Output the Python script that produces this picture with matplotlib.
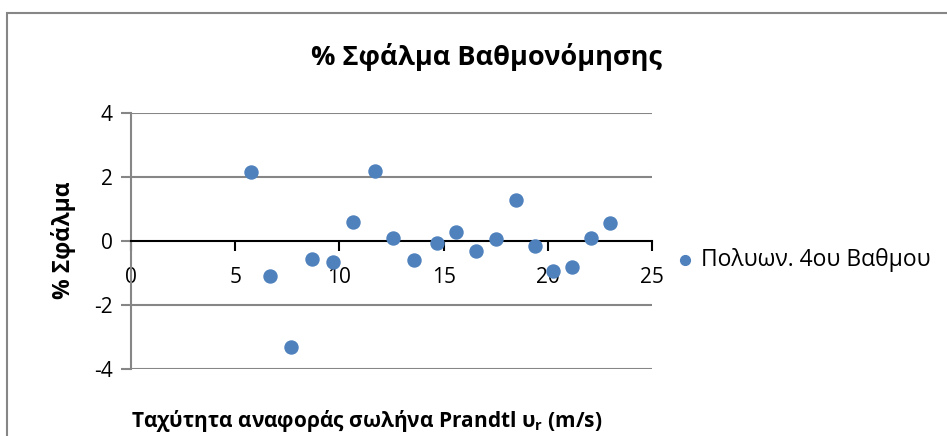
import numpy as np
import matplotlib.pyplot as plt
from matplotlib.patches import Rectangle

plt.rcParams['font.family'] = ['Open Sans', 'DejaVu Sans']
plt.rcParams['mathtext.fontset'] = 'custom'
plt.rcParams['mathtext.rm'] = 'Open Sans:bold'
plt.rcParams['mathtext.it'] = 'Open Sans:bold'
plt.rcParams['axes.unicode_minus'] = False

# ταχύτητα αναφοράς (m/s) και % σφάλμα
v_ref = [5.74, 6.67, 7.68, 8.69, 9.71, 10.67, 11.71, 12.59, 13.60, 14.70,
         15.61, 16.54, 17.51, 18.46, 19.37, 20.27, 21.15, 22.06, 22.98]
error = [2.16, -1.09, -3.29, -0.57, -0.64, 0.59, 2.18, 0.10, -0.59, -0.07,
         0.29, -0.32, 0.07, 1.28, -0.15, -0.93, -0.82, 0.10, 0.56]
x_ticks = [0, 5, 10, 15, 20, 25]
y_ticks = [-4, -2, 0, 2, 4]

fig = plt.figure(figsize=(9.47, 4.36), dpi=100)
ax = fig.add_axes([0.1383, 0.153, 0.5502, 0.5885])

# πλαίσιο γραφήματος
fig.patches.append(Rectangle((7 / 947, -0.1), 1.1, 1 - 13 / 436 + 0.1,
                             transform=fig.transFigure, fill=False,
                             edgecolor='#868686', linewidth=1.5))

ax.scatter(v_ref, error, s=88, color='#4F81BD', zorder=3, label='Πολυων. 4ου Βαθμου')

ax.spines['top'].set_visible(False)
ax.spines['right'].set_visible(False)
ax.spines['left'].set_color('#868686')
ax.spines['left'].set_linewidth(1.5)
ax.spines['bottom'].set_position(('data', 0))
ax.spines['bottom'].set_color('black')
ax.spines['bottom'].set_linewidth(1.5)

ax.set_xlim(0, 25)
ax.set_ylim(-4, 4)
ax.set_yticks(y_ticks)
ax.set_xticks(x_ticks)
ax.tick_params(axis='x', direction='out', length=7, width=1.5, color='black',
               pad=12, labelsize=15)
ax.tick_params(axis='y', direction='out', length=7, width=1.5, color='#868686',
               pad=6, labelsize=15)

for y in [-4, -2, 2, 4]:
    ax.axhline(y, color='#868686', linewidth=1.5, zorder=1)

fig.text(0.514, 0.869, '% Σφάλμα Βαθμονόμησης', ha='center', va='center',
         fontsize=19.5, fontweight='bold')
fig.text(0.067, 0.45, '% Σφάλμα', ha='center', va='center', rotation=90,
         fontsize=16.5, fontweight='bold')
fig.text(0.387, 0.034, r'Ταχύτητα αναφοράς σωλήνα Prandtl υ$_\mathrm{r}$ (m/s)',
         ha='center', va='center', fontsize=15, fontweight='bold')

ax.legend(loc='center left', bbox_to_anchor=(0.711, 0.404),
          bbox_transform=fig.transFigure, frameon=False, fontsize=16.5,
          handlelength=1.0, handletextpad=0.2, markerscale=0.75, borderaxespad=0,
          borderpad=0)

fig.savefig('out.png', dpi=100)
